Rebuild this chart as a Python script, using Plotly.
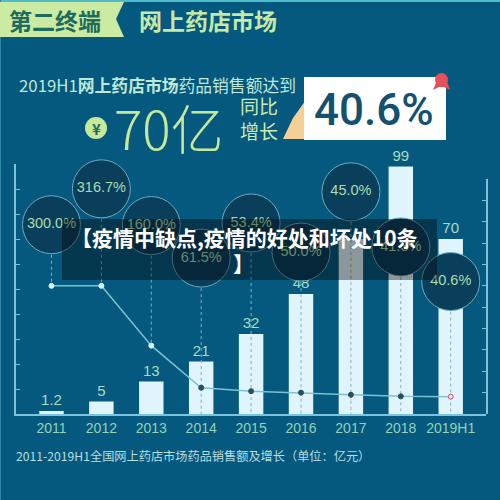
"""Online pharmacy market sales infographic, 2011-2019H1."""

import plotly.graph_objects as go

FONT = "Liberation Sans, Noto Sans CJK SC, sans-serif"
CJK = "Noto Sans CJK SC, sans-serif"
BG = "#05597e"

years = ["2011", "2012", "2013", "2014", "2015", "2016", "2017", "2018", "2019H1"]
sales = [1.2, 5, 13, 21, 32, 48, 70, 99, 70]
sales_labels = ["1.2", "5", "13", "21", "32", "48", "", "99", "70"]
growth_labels = ["300.0%", "316.7%", "160.0%", "61.5%", "53.4%", "50.0%", "45.0%", "41.3%", "40.6%"]
# the line in the picture is flat between 2011 and 2012, so it is read separately
growth_line = [300, 300, 160, 61.5, 53.4, 50, 45, 41.3, 40.6]
bubble_level = [443, 527, 441, 365, 447, 379, 520, 391, 310]
point_colors = ["#d8f3f5", "#d8f3f5", "#d8f3f5", "#27505f", "#27505f", "#27505f", "#27505f", "#27505f", "#f6dfe6"]
point_edges = ["#d8f3f5", "#d8f3f5", "#d8f3f5", "#27505f", "#27505f", "#27505f", "#27505f", "#27505f", "#d0506e"]

stem_x = []
stem_y = []
for year, top, bottom in zip(years, bubble_level, growth_line):
    stem_x += [year, year, None]
    stem_y += [top, bottom, None]
for year, top in zip(years[3:], growth_line[3:]):
    stem_x += [year, year, None]
    stem_y += [top, 0, None]

fig = go.Figure()
fig.add_trace(
    go.Bar(
        x=years,
        y=sales,
        width=0.49,
        marker=dict(color="#e0f4fb", line=dict(width=0)),
        text=sales_labels,
        textposition="outside",
        cliponaxis=False,
        textfont=dict(family=FONT, size=15, color="#a6dcc0"),
    )
)
fig.add_trace(
    go.Scatter(
        x=stem_x,
        y=stem_y,
        yaxis="y2",
        mode="lines",
        line=dict(color="#86aebd", width=1, dash="dot"),
    )
)
fig.add_trace(
    go.Scatter(
        x=years,
        y=growth_line,
        yaxis="y2",
        mode="lines+markers",
        line=dict(color="#79c3d2", width=1.5),
        marker=dict(size=5, color=point_colors, line=dict(color=point_edges, width=1)),
    )
)
fig.add_trace(
    go.Scatter(
        x=years,
        y=bubble_level,
        yaxis="y2",
        mode="markers+text",
        cliponaxis=False,
        marker=dict(size=58, color="#0a3f5c", line=dict(color="#6fa9bd", width=1)),
        text=growth_labels,
        textposition="middle center",
        textfont=dict(family=FONT, size=14.5, color="#a9dcae"),
    )
)


# header, headline figures and the caption strip sit in paper pixels
def px(x):
    return x / 500


def py(y):
    return 1 - y / 500


def path(points):
    return "M " + " L ".join(f"{px(x)} {py(y)}" for x, y in points) + " Z"


shapes = [
    dict(type="rect", x0=0, x1=1, y0=py(2), y1=1, fillcolor="#4fbcc9"),
    dict(type="rect", x0=0, x1=px(1), y0=0, y1=1, fillcolor="#2f86a5"),
    dict(type="path", path=path([(0, 2), (124, 2), (116, 19), (124, 37), (0, 37)]), fillcolor="#cbeaa2"),
    dict(type="circle", x0=px(85), x1=px(107), y0=py(139), y1=py(117), fillcolor="#c6e99c"),
    dict(
        type="path",
        path=path([(283, 139), (293, 118), (303, 104), (310, 93), (313, 96), (312, 112), (304, 139)]),
        fillcolor="#f4d097",
    ),
    dict(type="rect", x0=px(304), x1=px(446), y0=py(140), y1=py(77), fillcolor="#ffffff"),
    dict(type="path", path=path([(433, 90), (438, 78), (446, 78), (450, 90), (444, 87), (439, 87)]), fillcolor="#e2505a"),
    dict(type="circle", x0=px(435), x1=px(448), y0=py(86), y1=py(73), fillcolor="#e8505b"),
    dict(type="rect", x0=px(62), x1=px(437), y0=py(280), y1=py(219), fillcolor="rgba(0,0,0,0.38)"),
]
for shape in shapes:
    shape.update(xref="paper", yref="paper", line=dict(width=0), layer="above")


def note(x, y, text, size, color, family=CJK, anchor="left", **font):
    return dict(
        x=px(x),
        y=py(y),
        xref="paper",
        yref="paper",
        text=text,
        showarrow=False,
        xanchor=anchor,
        yanchor="middle",
        align=anchor,
        font=dict(family=family, size=size, color=color, **font),
    )


annotations = [
    note(7, 20, "<b>第二终端</b>", 23, "#1e6a5c"),
    note(137, 20, "<b>网上药店市场</b>", 23, "#c6e9a6"),
    note(17, 85, "2019H1<b>网上药店市场</b>药品销售额达到", 16.8, "#bfe8d6"),
    note(96, 128, "<b>¥</b>", 15, "#1e6a5c", anchor="center"),
    note(112, 127, "70亿", 53, "#c4e89c", weight=300),
    note(238, 106, "同比", 19, "#cfeab0"),
    note(238, 130, "增长", 19, "#cfeab0"),
    note(374, 110, "40.6%", 44, "#14506f", family="Roboto, " + FONT, anchor="center", weight=500),
    note(14, 456, "2011-2019H1全国网上药店市场药品销售额及增长（单位：亿元）", 12.2, "#b8dfe0"),
    note(244, 237, "<b>【疫情中缺点,疫情的好处和坏处10条</b>", 21, "#ffffff", anchor="center"),
    note(243, 263, "<b>】</b>", 21, "#ffffff", anchor="center"),
]

fig.update_layout(
    width=500,
    height=500,
    margin=dict(l=0, r=0, t=0, b=0),
    paper_bgcolor=BG,
    plot_bgcolor="rgba(0,0,0,0)",
    showlegend=False,
    shapes=shapes,
    annotations=annotations,
    xaxis=dict(
        type="category",
        domain=[px(16), px(486)],
        range=[-0.711, 8.707],
        showgrid=False,
        showline=True,
        linecolor="#7cc4dc",
        linewidth=2,
        ticks="",
        tickfont=dict(family=FONT, size=14, color="#93d2b8"),
    ),
    yaxis=dict(
        domain=[py(414), py(164)],
        range=[0, 100],
        dtick=10,
        showgrid=False,
        zeroline=False,
        showline=True,
        linecolor="#7cc4dc",
        linewidth=2,
        ticks="inside",
        ticklen=4,
        tickcolor="#7cc4dc",
        showticklabels=False,
    ),
    yaxis2=dict(
        domain=[py(414), py(179)],
        range=[0, 550],
        dtick=50,
        side="right",
        anchor="x",
        showgrid=False,
        zeroline=False,
        showline=True,
        linecolor="#7cc4dc",
        linewidth=1.5,
        ticks="inside",
        ticklen=4,
        tickcolor="#7cc4dc",
        showticklabels=False,
    ),
)

# the page's default body margin would push the picture off the window
fig.write_html(
    "out.html",
    config=dict(displayModeBar=False),
    post_script="document.body.style.margin = '0';",
)
